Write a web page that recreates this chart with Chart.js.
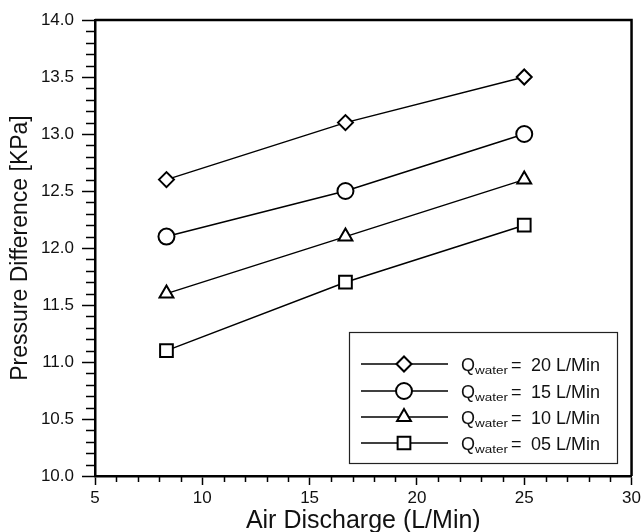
<!DOCTYPE html>
<html>
<head>
<meta charset="utf-8">
<script src="https://cdn.jsdelivr.net/npm/chart.js@4/dist/chart.umd.min.js"></script>
<style>
html,body{margin:0;padding:0;background:#fff;}
#wrap{width:644px;height:532px;position:relative;}
</style>
</head>
<body>
<div id="wrap"><canvas id="c" width="644" height="532"></canvas></div>
<script>
const airDischarge = [8.33, 16.67, 25.0];
const q20 = [12.6, 13.1, 13.5];
const q15 = [12.1, 12.5, 13.0];
const q10 = [11.6, 12.1, 12.6];
const q05 = [11.1, 11.7, 12.2];
const seriesLabels = ['20 L/Min', '15 L/Min', '10 L/Min', '05 L/Min'];
const pointStyles = ['rectRot', 'circle', 'triangle', 'rect'];
const pointRadii = [7.5, 8, 8, 9];

const FONT = '"Liberation Sans", Arial, sans-serif';

function pts(ys){ return airDischarge.map((x,i)=>({x:x,y:ys[i]})); }

const allSeries = [q20, q15, q10, q05];
const datasets = allSeries.map((ys,i)=>({
  label: seriesLabels[i],
  data: pts(ys),
  borderColor: '#000',
  borderWidth: 1.5,
  pointStyle: pointStyles[i],
  pointRadius: pointRadii[i],
  pointBorderWidth: 2,
  pointBorderColor: '#000',
  pointBackgroundColor: '#fff',
  fill: false,
  tension: 0
}));

const framePlugin = {
  id: 'frame',
  afterDraw(chart){
    const ctx = chart.ctx;
    const a = chart.chartArea;
    const xs = chart.scales.x, ys = chart.scales.y;
    ctx.save();
    ctx.strokeStyle = '#000';
    // top & right frame
    ctx.lineWidth = 2.5;
    ctx.beginPath();
    ctx.moveTo(a.left, a.top);
    ctx.lineTo(a.right, a.top);
    ctx.lineTo(a.right, a.bottom);
    ctx.stroke();
    // minor ticks
    ctx.lineWidth = 1.5;
    ctx.beginPath();
    for (let v = 6; v < 30; v++) {
      if (v % 5 === 0) continue;
      const px = Math.round(xs.getPixelForValue(v)) + 0.5;
      ctx.moveTo(px, a.bottom);
      ctx.lineTo(px, a.bottom + 6);
    }
    for (let k = 101; k < 140; k++) {
      if (k % 5 === 0) continue;
      const py = Math.round(ys.getPixelForValue(k / 10)) + 0.5;
      ctx.moveTo(a.left, py);
      ctx.lineTo(a.left - 9, py);
    }
    ctx.stroke();

    // legend
    const bx = 349, by = 332, bw = 268, bh = 131;
    ctx.lineWidth = 1.2;
    ctx.strokeStyle = '#222';
    ctx.fillStyle = '#fff';
    ctx.fillRect(bx, by, bw, bh);
    ctx.strokeRect(bx + 0.5, by + 0.5, bw, bh);
    const rows = [364, 391, 417, 443];
    rows.forEach((ry, i) => {
      ctx.strokeStyle = '#000';
      ctx.lineWidth = 1.5;
      ctx.beginPath();
      ctx.moveTo(361, ry);
      ctx.lineTo(448, ry);
      ctx.stroke();
      ctx.fillStyle = '#fff';
      ctx.lineWidth = 2;
      Chart.helpers.drawPoint(ctx, {pointStyle: pointStyles[i], radius: pointRadii[i], rotation: 0, borderWidth: 2}, 404, ry);
      ctx.fillStyle = '#111';
      ctx.textBaseline = 'alphabetic';
      ctx.textAlign = 'left';
      ctx.font = '18px ' + FONT;
      ctx.fillText('Q', 461, ry + 6.5);
      ctx.save();
      ctx.translate(475, ry + 10);
      ctx.scale(1.35, 1);
      ctx.font = '10px ' + FONT;
      ctx.fillText('water', 0, 0);
      ctx.restore();
      ctx.font = '18px ' + FONT;
      ctx.fillText('=', 511, ry + 6.5);
      ctx.fillText(seriesLabels[i], 531, ry + 6.5);
    });
    ctx.restore();
  }
};

new Chart(document.getElementById('c'), {
  type: 'line',
  data: { datasets: datasets },
  plugins: [framePlugin],
  options: {
    responsive: false,
    animation: false,
    devicePixelRatio: 1,
    layout: { padding: { top: 20, right: 11, left: 0, bottom: 0 } },
    plugins: { legend: { display: false }, tooltip: { enabled: false } },
    scales: {
      x: {
        type: 'linear',
        min: 5, max: 30,
        afterFit(s){ s.height = 56; },
        ticks: { stepSize: 5, color: '#111', font: { family: FONT, size: 17 }, padding: 3, maxRotation: 0 },
        grid: { display: true, drawOnChartArea: false, drawTicks: true, tickLength: 9, tickColor: '#000', tickWidth: 1.5 },
        border: { display: true, color: '#000', width: 2.5 },
        title: { display: true, text: 'Air Discharge (L/Min)', color: '#111', font: { family: FONT, size: 25, lineHeight: 0.9 }, padding: { top: 0, bottom: 0 } }
      },
      y: {
        type: 'linear',
        min: 10, max: 14,
        afterFit(s){ s.width = 95; },
        ticks: { stepSize: 0.5, color: '#111', font: { family: FONT, size: 17 }, padding: 8, callback: v => Number(v).toFixed(1) },
        grid: { display: true, drawOnChartArea: false, drawTicks: true, tickLength: 13, tickColor: '#000', tickWidth: 1.5 },
        border: { display: true, color: '#000', width: 2.5 },
        title: { display: true, text: 'Pressure Difference [KPa]', color: '#111', font: { family: FONT, size: 23, lineHeight: 1.0 }, padding: { top: 9.5, bottom: 0 } }
      }
    }
  }
});
</script>
</body>
</html>
